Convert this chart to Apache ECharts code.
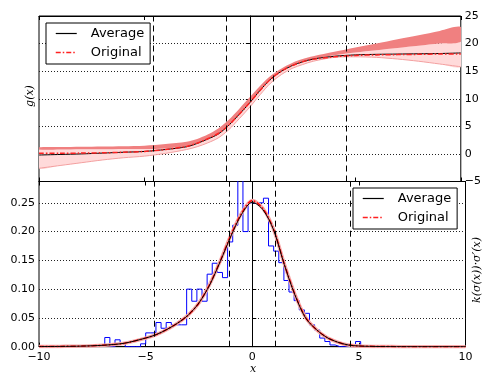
<!DOCTYPE html>
<html>
<head>
<meta charset="utf-8">
<script src="https://cdn.jsdelivr.net/npm/echarts@6/dist/echarts.min.js"></script>
<style>
  html, body { margin: 0; padding: 0; background: #fff; }
  #main { width: 484px; height: 374px; }
</style>
</head>
<body>
<div id="main"></div>
<script>
// sample points for the top panel
const topX = [-10, -9, -8, -7, -6, -5, -4, -3, -2.5, -2, -1.5, -1, -0.5, 0, 0.5, 1, 1.5, 2, 2.5, 3, 4, 5, 6, 7, 8, 9, 10];
const gAverage = [-0.2, -0.1, 0.0, 0.15, 0.3, 0.45, 0.8, 1.3, 1.9, 2.7, 3.6, 5.2, 7.2, 9.3, 11.6, 13.6, 15.0, 16.0, 16.7, 17.2, 17.7, 17.95, 18.05, 18.1, 18.15, 18.2, 18.3];
const gOriginal = [0.1, 0.1, 0.15, 0.2, 0.3, 0.45, 0.8, 1.35, 1.95, 2.75, 3.7, 5.2, 7.2, 9.3, 11.6, 13.6, 15.0, 16.0, 16.7, 17.15, 17.6, 17.85, 17.95, 18.0, 18.05, 18.1, 18.1];
const bandLow = [-2.6, -2.1, -1.6, -1.1, -0.7, -0.4, 0.1, 0.8, 1.3, 2.0, 2.9, 4.4, 6.4, 8.5, 10.8, 12.9, 14.4, 15.5, 16.2, 16.8, 17.5, 17.6, 17.5, 17.2, 16.8, 16.3, 15.8];
const bandMid = [0.8, 0.8, 0.85, 0.85, 0.9, 0.9, 1.0, 1.4, 1.95, 2.75, 3.65, 5.25, 7.25, 9.35, 11.65, 13.65, 15.05, 16.05, 16.75, 17.25, 17.9, 18.4, 18.8, 19.2, 19.6, 20.0, 20.4];
const bandHigh = [1.2, 1.25, 1.3, 1.35, 1.4, 1.5, 1.8, 2.2, 2.7, 3.5, 4.6, 6.2, 8.2, 10.3, 12.4, 14.2, 15.5, 16.5, 17.2, 17.7, 18.5, 19.3, 20.0, 20.8, 21.5, 22.3, 23.0];

// sample points for the bottom panel
const botX = [-10, -9, -8, -7, -6, -5, -4.5, -4, -3.5, -3, -2.5, -2, -1.5, -1, -0.5, 0, 0.5, 1, 1.5, 2, 2.5, 3, 3.5, 4, 4.5, 5, 6, 7, 8, 9, 10];
const kAverage = [0.0002, 0.0005, 0.001, 0.0025, 0.006, 0.015, 0.021, 0.030, 0.041, 0.055, 0.076, 0.107, 0.148, 0.192, 0.230, 0.251, 0.238, 0.203, 0.143, 0.090, 0.050, 0.030, 0.016, 0.008, 0.003, 0.0012, 0.0003, 0.0001, 0, 0, 0];
const kOriginal = [0.0002, 0.0005, 0.001, 0.0025, 0.006, 0.015, 0.021, 0.030, 0.041, 0.055, 0.076, 0.108, 0.149, 0.194, 0.232, 0.254, 0.240, 0.204, 0.144, 0.091, 0.051, 0.030, 0.016, 0.008, 0.003, 0.0012, 0.0003, 0.0001, 0, 0, 0];

// histogram: first edge, bin width, heights
const histStart = -6.916;
const histWidth = 0.24;
const histHeights = [0.016, 0, 0.012, 0.006, 0, 0, 0, 0.005, 0.024, 0.024,
  0.042, 0.032, 0.042, 0.038, 0.038, 0.038, 0.100, 0.079, 0.100, 0.079,
  0.126, 0.145, 0.129, 0.120, 0.182, 0.211, 0.300, 0.200, 0.250, 0.250,
  0.250, 0.258, 0.175, 0.166, 0.146, 0.115, 0.095, 0.080, 0.064, 0.058,
  0.038, 0.029, 0.015, 0.009, 0.003, 0, 0, 0, 0, 0.009];

// vertical dashed markers
const dashX = [-4.595, -1.099, 0, 1.099, 4.595];

const pairs = (xs, ys) => xs.map((x, i) => [x, ys[i]]);

const histLine = [[histStart, 0]];
histHeights.forEach((h, i) => {
  const a = histStart + i * histWidth;
  histLine.push([a, h], [a + histWidth, h]);
});
histLine.push([histStart + histHeights.length * histWidth, 0]);

const FONT = 'DejaVu Sans';
const RED = '#ff2020';
const DASHDOT = [5, 2, 1.5, 2];
const minus = v => String(v).replace('-', '\u2212');

function bandItem (params, api) {
  if (params.dataIndex !== 0) return;
  const low = topX.map((x, i) => api.coord([x, bandLow[i]]));
  const mid = topX.map((x, i) => api.coord([x, bandMid[i]]));
  const high = topX.map((x, i) => api.coord([x, bandHigh[i]]));
  return {
    type: 'group',
    children: [
      { type: 'polygon', shape: { points: low.concat(mid.slice().reverse()), smooth: 0.3 },
        style: { fill: '#ffdada', stroke: null } },
      { type: 'polygon', shape: { points: mid.concat(high.slice().reverse()), smooth: 0.3 },
        style: { fill: '#f08080', stroke: null } },
      { type: 'polyline', shape: { points: low, smooth: 0.3 },
        style: { fill: null, stroke: '#f3a0a0', lineWidth: 1 } }
    ]
  };
}

const xBase = (gridIndex, pos, labels) => ({
  type: 'value', gridIndex, position: pos, min: -10, max: 10, interval: 5,
  axisLine: { show: true, onZero: false, lineStyle: { color: '#000', width: 1 } },
  axisTick: { show: true, inside: true, length: 4, lineStyle: { color: '#000' } },
  axisLabel: { show: labels, margin: 5, color: '#000', fontFamily: FONT, fontSize: 11, formatter: minus },
  splitLine: { show: false }
});

const dashMark = () => ({
  symbol: ['none', 'none'], silent: true, animation: false,
  label: { show: false },
  lineStyle: { color: '#000', type: [6, 4], width: 1 },
  data: dashX.map(v => ({ xAxis: v }))
});

const legendAt = (left, top) => ({
  left, top,
  data: [
    { name: 'Average', lineStyle: { color: '#000', width: 1.2, type: 'solid' } },
    { name: 'Original', lineStyle: { color: RED, width: 1.5, type: DASHDOT } }
  ],
  orient: 'vertical',
  padding: [4, 6, 5, 9], itemWidth: 21, itemHeight: 14, itemGap: 6,
  borderColor: '#000', borderWidth: 1, backgroundColor: '#fff',
  selectedMode: false,
  itemStyle: { opacity: 0 },
  textStyle: { fontFamily: FONT, fontSize: 13, color: '#000', padding: [0, 0, 0, 9] }
});

const chart = echarts.init(document.getElementById('main'));
chart.setOption({
  animation: false,
  backgroundColor: '#fff',
  grid: [
    { left: 39, right: 18.5, top: 16, height: 165.5, show: true, borderColor: '#000', borderWidth: 1 },
    { left: 39, right: 18.5, top: 181.5, height: 165.2, show: true, borderColor: '#000', borderWidth: 1 }
  ],
  xAxis: [
    xBase(0, 'bottom', false),
    xBase(0, 'top', false),
    xBase(1, 'bottom', true),
    xBase(1, 'top', false)
  ],
  yAxis: [
    {
      type: 'value', gridIndex: 0, position: 'right', min: -5, max: 25, interval: 5,
      axisLine: { show: true, lineStyle: { color: '#000' } },
      axisTick: { show: true, inside: true, length: 4, lineStyle: { color: '#000' } },
      axisLabel: { margin: 4, color: '#000', fontFamily: FONT, fontSize: 11, formatter: minus },
      splitLine: { show: true, lineStyle: { color: '#222', type: [1, 2], width: 1 } }
    },
    {
      type: 'value', gridIndex: 1, position: 'left', min: 0, max: 0.287, interval: 0.05,
      axisLine: { show: true, lineStyle: { color: '#000' } },
      axisTick: { show: true, inside: true, length: 4, lineStyle: { color: '#000' } },
      axisLabel: { margin: 4, color: '#000', fontFamily: FONT, fontSize: 11, showMaxLabel: false,
        formatter: v => v.toFixed(2) },
      splitLine: { show: true, lineStyle: { color: '#222', type: [1, 2], width: 1 } }
    }
  ],
  legend: [legendAt(46, 23), legendAt(353, 188)],
  series: [
    {
      type: 'custom', xAxisIndex: 0, yAxisIndex: 0, clip: true, silent: true,
      renderItem: bandItem, data: [[0, 0]], z: 1
    },
    {
      name: 'Average', type: 'line', xAxisIndex: 0, yAxisIndex: 0,
      data: pairs(topX, gAverage), smooth: 0.3, symbol: 'none',
      lineStyle: { color: '#000', width: 1 }, itemStyle: { color: '#000' },
      markLine: dashMark(), z: 3
    },
    {
      name: 'Original', type: 'line', xAxisIndex: 0, yAxisIndex: 0,
      data: pairs(topX, gOriginal), smooth: 0.3, symbol: 'none',
      lineStyle: { color: RED, width: 1.5, type: DASHDOT }, itemStyle: { color: RED }, z: 4
    },
    {
      type: 'line', xAxisIndex: 2, yAxisIndex: 1, data: histLine, symbol: 'none',
      lineStyle: { color: '#0000ff', width: 1 }, silent: true, markLine: dashMark(), z: 2
    },
    {
      type: 'line', xAxisIndex: 2, yAxisIndex: 1, data: pairs(botX, kOriginal), smooth: 0.3, symbol: 'none',
      lineStyle: { color: '#f6a8a8', width: 3.5 }, silent: true, z: 3
    },
    {
      name: 'Original', type: 'line', xAxisIndex: 2, yAxisIndex: 1,
      data: pairs(botX, kOriginal), smooth: 0.3, symbol: 'none',
      lineStyle: { color: '#ff0000', width: 1.5, type: DASHDOT }, itemStyle: { color: '#ff0000' }, z: 4
    },
    {
      name: 'Average', type: 'line', xAxisIndex: 2, yAxisIndex: 1,
      data: pairs(botX, kAverage), smooth: 0.3, symbol: 'none',
      lineStyle: { color: '#000', width: 1 }, itemStyle: { color: '#000' }, z: 5
    }
  ],
  graphic: [
    { type: 'text', x: 30, y: 96, rotation: Math.PI / 2,
      style: { text: 'g(x)', font: 'italic 11px "DejaVu Serif"', fill: '#000', align: 'center', verticalAlign: 'middle' } },
    { type: 'text', x: 477, y: 270, rotation: Math.PI / 2,
      style: { text: 'k(\u03c3(x))\u00b7\u03c3\u2032(x)', font: 'italic 11px "DejaVu Serif"', fill: '#000', align: 'center', verticalAlign: 'middle' } },
    { type: 'text', x: 253, y: 369,
      style: { text: 'x', font: 'italic 11px "DejaVu Serif"', fill: '#000', align: 'center', verticalAlign: 'middle' } }
  ]
});
</script>
</body>
</html>
